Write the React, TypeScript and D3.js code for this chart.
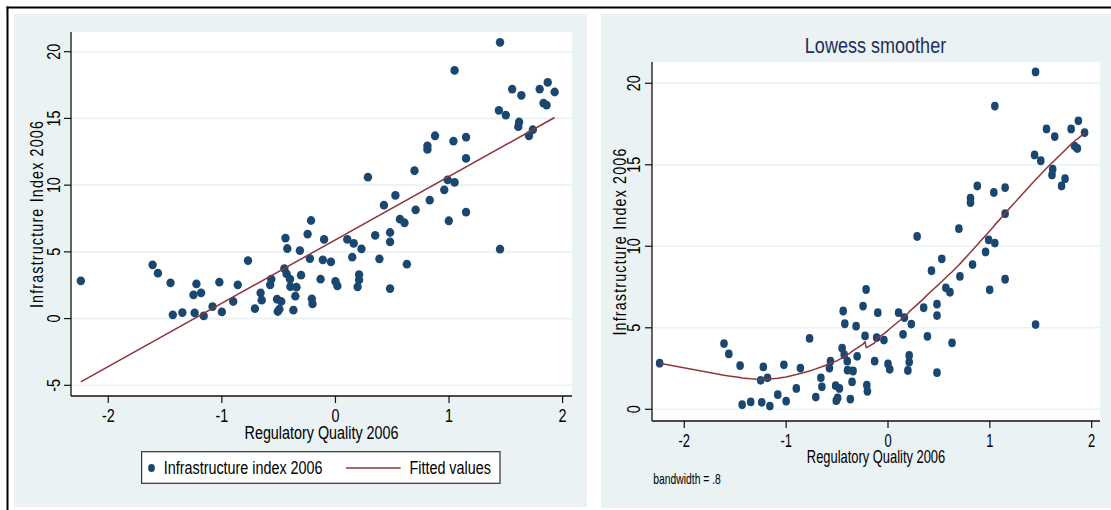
import React, { useEffect, useRef } from "react";
import * as d3 from "d3";

// Regulatory Quality 2006 (x) and Infrastructure Index 2006 (y)
const regQuality = [
    -2.242, -1.61, -1.563, -1.452, -1.432, -1.348, -1.25, -1.24, -1.224, -1.183,
    -1.16, -1.082, -1.022, -1.0, -0.9, -0.86, -0.77, -0.709, -0.659, -0.649,
    -0.575, -0.565, -0.514, -0.508, -0.494, -0.477, -0.45, -0.44, -0.43, -0.424,
    -0.4, -0.397, -0.37, -0.353, -0.343, -0.313, -0.303, -0.245, -0.225, -0.215,
    -0.208, -0.202, -0.131, -0.111, -0.1, -0.04, 0.0, 0.017, 0.104, 0.148,
    0.161, 0.195, 0.208, 0.208, 0.229, 0.286, 0.35, 0.387, 0.427, 0.481,
    0.481, 0.481, 0.528, 0.568, 0.608, 0.629, 0.696, 0.706, 0.81, 0.81,
    0.83, 0.877, 0.958, 0.988, 0.998, 1.039, 1.049, 1.049, 1.15, 1.15,
    1.15, 1.449, 1.439, 1.449, 1.5, 1.556, 1.617, 1.61, 1.637, 1.704,
    1.738, 1.798, 1.832, 1.859, 1.869, 1.93
];
const infraIndex = [
    2.83, 4.03, 3.4, 2.68, 0.28, 0.45, 1.78, 0.43, 2.6, 1.93,
    0.2, 0.9, 2.73, 0.5, 1.28, 2.53, 4.35, 0.75, 1.93, 1.38,
    2.53, 2.95, 1.45, 0.53, 0.7, 1.28, 3.75, 6.03, 3.35, 5.25,
    2.95, 2.4, 0.63, 1.68, 2.35, 5.1, 3.25, 6.33, 4.5, 7.35,
    1.48, 1.1, 2.95, 4.4, 5.93, 4.25, 2.78, 2.45, 5.93, 4.6,
    5.63, 2.38, 3.3, 2.9, 5.23, 10.6, 6.23, 4.48, 8.5, 6.45,
    5.75, 2.25, 9.23, 7.45, 7.18, 4.08, 11.08, 8.15, 12.95, 12.68,
    8.88, 13.7, 9.65, 10.4, 7.33, 13.3, 18.6, 10.2, 13.6, 12.0,
    7.98, 20.7, 15.6, 5.2, 15.25, 17.2, 14.73, 14.38, 16.73, 13.7,
    14.15, 17.2, 16.15, 16.0, 17.7, 16.98
];

const xTicks = [-2, -1, 0, 1, 2];
const yTicksFit = [-5, 0, 5, 10, 15, 20];
const yTicksLowess = [0, 5, 10, 15, 20];
const bandwidth = 0.8;

const NAVY = "#1a476f";
const MAROON = "#90353b";
const PANEL_BG = "#eaf2f3";
const FONT = "'Liberation Sans', Arial, sans-serif";

// plain least squares line
const olsFit = (xs: number[], ys: number[]) => {
    const mx = d3.mean(xs)!;
    const my = d3.mean(ys)!;
    let sxy = 0, sxx = 0;
    xs.forEach((x, i) => {
        sxy += (x - mx) * (ys[i] - my);
        sxx += (x - mx) * (x - mx);
    });
    const b = sxy / sxx;
    return {a: my - b * mx, b};
};

// Stata-style lowess: symmetric index neighbourhood, tricube weights, local line
const lowess = (xs: number[], ys: number[], bw: number) => {
    const idx = d3.range(xs.length).sort((i, j) => xs[i] - xs[j]);
    const x = idx.map(i => xs[i]);
    const y = idx.map(i => ys[i]);
    const n = x.length;
    const k = Math.floor((n * bw - 0.5) / 2);
    return x.map((xi, i) => {
        const lo = Math.max(0, i - k);
        const hi = Math.min(n - 1, i + k);
        const delta = 1.0001 * Math.max(x[hi] - xi, xi - x[lo]);
        let sw = 0, swx = 0, swy = 0;
        const w: number[] = [];
        for (let j = lo; j <= hi; j++) {
            const u = Math.abs(x[j] - xi) / delta;
            const wj = u < 1 ? Math.pow(1 - u * u * u, 3) : 0;
            w.push(wj);
            sw += wj; swx += wj * x[j]; swy += wj * y[j];
        }
        const mx = swx / sw, my = swy / sw;
        let sxy = 0, sxx = 0;
        for (let j = lo; j <= hi; j++) {
            const wj = w[j - lo];
            sxy += wj * (x[j] - mx) * (y[j] - my);
            sxx += wj * (x[j] - mx) * (x[j] - mx);
        }
        const b = sxx > 0 ? sxy / sxx : 0;
        return [xi, my + b * (xi - mx)] as [number, number];
    });
};

const label = (g, x, y, text, o: any = {}) => {
    const t = g.append("text")
        .attr("transform", `translate(${x},${y}) rotate(${o.rotate || 0}) scale(${o.sx || 0.82},1)`)
        .attr("text-anchor", o.anchor || "middle")
        .style("font-family", FONT)
        .style("font-size", (o.size || 17.5) + "px")
        .attr("fill", o.color || "#000")
        .text(text);
    if (o.spacing) t.style("letter-spacing", o.spacing + "px");
    return t;
};

const drawPanel = (svg, c) => {
    const g = svg.append("g");
    const {left, right, top, bottom} = c.plot;
    const x = d3.scaleLinear().domain([-2, 2]).range(c.xRange);
    const y = d3.scaleLinear().domain(c.yDomain).range(c.yRange);

    g.append("rect").attr("x", c.bg[0]).attr("y", c.bg[1])
        .attr("width", c.bg[2] - c.bg[0]).attr("height", c.bg[3] - c.bg[1])
        .attr("fill", PANEL_BG);
    g.append("rect").attr("x", left).attr("y", top)
        .attr("width", right - left).attr("height", bottom - top)
        .attr("fill", "#fff");

    // grid
    g.selectAll(".grid").data(c.yTicks).enter().append("line")
        .attr("x1", left).attr("x2", right)
        .attr("y1", d => y(d)).attr("y2", d => y(d))
        .attr("stroke", PANEL_BG).attr("stroke-width", 1.6);

    // points
    g.selectAll(".pt").data(regQuality).enter().append("ellipse")
        .attr("cx", d => x(d))
        .attr("cy", (d, i) => y(infraIndex[i]))
        .attr("rx", c.rx).attr("ry", c.ry)
        .attr("fill", NAVY);

    // fitted / smoothed line
    g.append("path").datum(c.line)
        .attr("d", d3.line().x(d => x(d[0])).y(d => y(d[1])))
        .attr("fill", "none").attr("stroke", MAROON).attr("stroke-width", 1.5);

    // axes
    g.append("line").attr("x1", left).attr("x2", left).attr("y1", top).attr("y2", bottom)
        .attr("stroke", "#111").attr("stroke-width", 1.3);
    g.append("line").attr("x1", left).attr("x2", right).attr("y1", bottom).attr("y2", bottom)
        .attr("stroke", "#111").attr("stroke-width", 1.3);
    g.selectAll(".yt").data(c.yTicks).enter().append("line")
        .attr("x1", left - 7).attr("x2", left)
        .attr("y1", d => y(d)).attr("y2", d => y(d))
        .attr("stroke", "#111").attr("stroke-width", 1.2);
    g.selectAll(".xt").data(xTicks).enter().append("line")
        .attr("x1", d => x(d)).attr("x2", d => x(d))
        .attr("y1", bottom).attr("y2", bottom + 7)
        .attr("stroke", "#111").attr("stroke-width", 1.2);

    c.yTicks.forEach(d => label(g, c.yLabelX, y(d), d, {rotate: -90, sx: 0.82}));
    xTicks.forEach(d => label(g, x(d), c.xLabelY, d, {sx: 0.82 * c.squeeze}));

    label(g, (left + right) / 2, c.xTitleY, "Regulatory Quality 2006", {sx: 0.82 * c.squeeze});
    label(g, c.yTitleX, (top + bottom) / 2, "Infrastructure Index 2006", {rotate: -90, spacing: 1.4});
    return g;
};

const App = () => {
    const ref = useRef<SVGSVGElement>(null);

    useEffect(() => {
        const svg = d3.select(ref.current);
        svg.selectAll("*").remove();

        const fit = olsFit(regQuality, infraIndex);
        const xExt = d3.extent(regQuality) as [number, number];
        const fitLine = xExt.map(v => [v, fit.a + fit.b * v]);

        // left: scatter + linear fit
        const gl = drawPanel(svg, {
            bg: [14, 14, 587, 507],
            plot: {left: 71, right: 572, top: 32, bottom: 396},
            xRange: [108.3, 562.6],
            yDomain: [-5, 20], yRange: [385.3, 51.7],
            yTicks: yTicksFit,
            rx: 4.2, ry: 4.4,
            line: fitLine,
            yLabelX: 59.5, xLabelY: 421.7, xTitleY: 439.3, yTitleX: 43,
            squeeze: 1
        });

        // legend
        gl.append("rect").attr("x", 141.6).attr("y", 451.7).attr("width", 358.4).attr("height", 31.6)
            .attr("fill", "#fff").attr("stroke", "#333").attr("stroke-width", 1.2);
        gl.append("ellipse").attr("cx", 151.5).attr("cy", 468).attr("rx", 3.4).attr("ry", 4)
            .attr("fill", NAVY);
        label(gl, 163.8, 474, "Infrastructure index 2006", {anchor: "start"});
        gl.append("line").attr("x1", 346).attr("x2", 400.7).attr("y1", 468).attr("y2", 468)
            .attr("stroke", MAROON).attr("stroke-width", 1.5);
        label(gl, 409.5, 474, "Fitted values", {anchor: "start"});

        // right: lowess smoother
        const gr = drawPanel(svg, {
            bg: [601, 14, 1111, 508],
            plot: {left: 652, right: 1100, top: 62, bottom: 421},
            xRange: [684.3, 1091.7],
            yDomain: [0, 20], yRange: [409.3, 83.3],
            yTicks: yTicksLowess,
            rx: 3.8, ry: 4.4,
            line: lowess(regQuality, infraIndex, bandwidth),
            yLabelX: 640, xLabelY: 446.7, xTitleY: 463.3, yTitleX: 626,
            squeeze: 0.9
        });
        label(gr, 875.5, 53.3, "Lowess smoother", {size: 22, color: "#1e2d5a", sx: 0.82});
        label(gr, 653.3, 484, "bandwidth = .8", {size: 14, anchor: "start", sx: 0.82 * 0.9});

        // outer frame
        svg.append("line").attr("x1", 6.5).attr("x2", 1111).attr("y1", 7.5).attr("y2", 7.5)
            .attr("stroke", "#000").attr("stroke-width", 2);
        svg.append("line").attr("x1", 7.5).attr("x2", 7.5).attr("y1", 6.5).attr("y2", 510)
            .attr("stroke", "#000").attr("stroke-width", 2);
    }, []);

    return (
        <svg ref={ref} width={1111} height={510}
             style={{position: "absolute", left: 0, top: 0, background: "#fff"}}></svg>
    );
};

export default App;
